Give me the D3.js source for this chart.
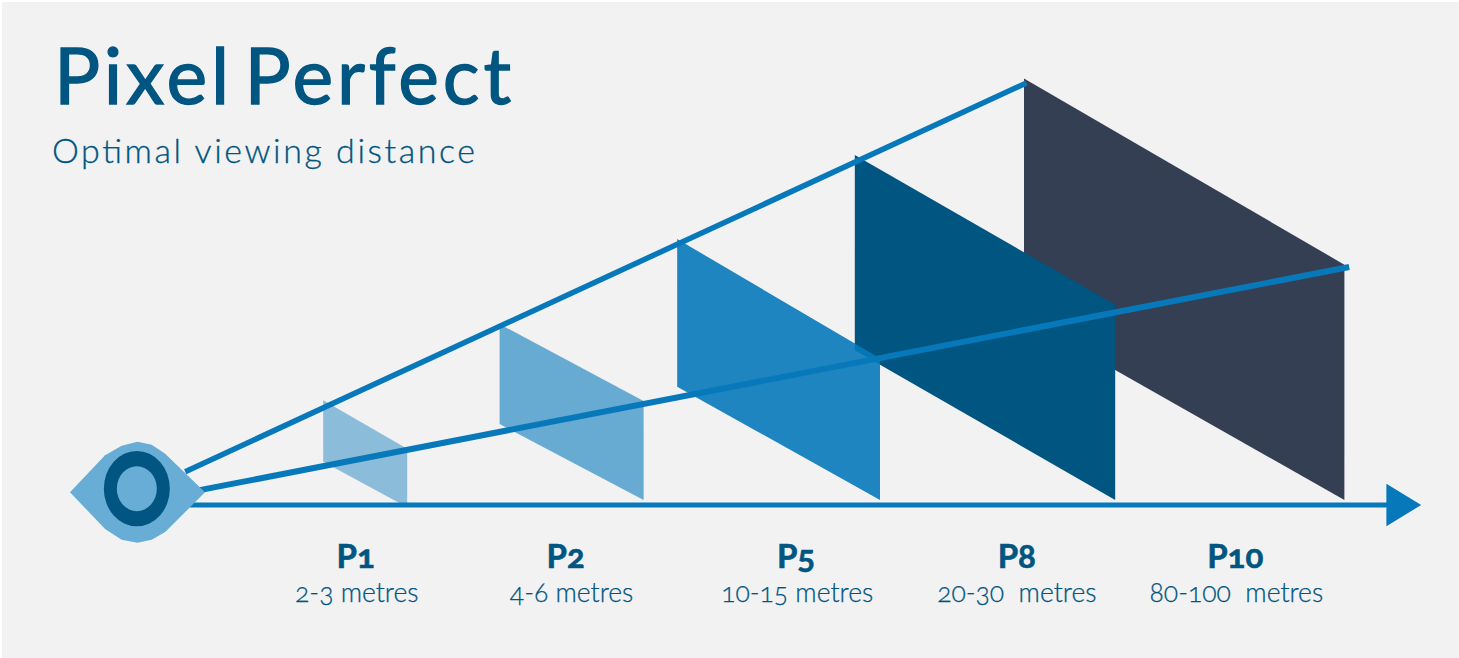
<!DOCTYPE html>
<html>
<head>
<meta charset="utf-8">
<style>
  body { margin: 0; background: #fff; }
  svg { display: block; }
  text { font-family: Lato, sans-serif; fill: #005581; stroke: #005581; white-space: pre; font-variant-numeric: oldstyle-nums; }
</style>
<script src="https://cdn.jsdelivr.net/npm/d3@7"></script>
</head>
<body>
<script>
// pitch classes, far to near is the draw order further down
var pitches = ['P1', 'P2', 'P5', 'P8', 'P10'];
var ranges = ['2-3 metres', '4-6 metres', '10-15 metres', '20-30  metres', '80-100  metres'];

// along the axis, 0-100
var nearEdge = [11.1, 25.8, 40.6, 55.4, 69.5];
var farEdge = [18.1, 37.8, 57.5, 77.1, 96.2];
var labelAt = [13.8, 31.3, 50.5, 68.9, 87.1];
var rangeAt = [13.9, 31.8, 50.6, 68.9, 87.2];

// height above the axis, 0-100
var nearTop = [23.3, 40.2, 59.1, 77.8, 94.8];
var farTop = [12.5, 23.1, 32.6, 44.5, 53.4];
var nearBottom = [9.6, 18.0, 26.3, 34.4, 41.5];
var farBottom = [-0.5, 1.1, 1.1, 1.1, 1.1];

var fills = ['#0779bb', '#0779bb', '#0779bb', '#005581', '#353f54'];
var fillOpacity = [0.44, 0.59, 0.9, 1, 1];

// sight lines [from, to]
var upperSightX = [-0.4, 69.7];
var upperSightY = [7.4, 93.8];
var lowerSightX = [0.8, 96.6];
var lowerSightY = [3.3, 52.9];

// eye outline, -1..1 each way
var eyeOutlineX = [-1, -0.48, -0.235, 0, 0.21, 0.41, 1, 0.41, 0.21, 0, -0.235, -0.48];
var eyeOutlineY = [0, 0.73, 0.92, 1, 0.94, 0.76, 0, -0.79, -0.94, -1, -0.94, -0.73];

var svgWidth = 1459, svgHeight = 658;

var svg = d3.select('body').append('svg')
    .attr('width', svgWidth)
    .attr('height', svgHeight);

svg.append('rect')
    .attr('x', 2).attr('y', 2)
    .attr('width', svgWidth - 2).attr('height', svgHeight - 2)
    .attr('fill', '#f2f2f2');

var xScale = d3.scaleLinear().domain([0, 100]).range([190, 1390]);
var yScale = d3.scaleLinear().domain([0, 100]).range([505, 55]);
var eyeX = d3.scaleLinear().domain([-1, 1]).range([70, 205]);
var eyeY = d3.scaleLinear().domain([-1, 1]).range([542.7, 441.7]);

var toPath = d3.line()
    .x(function(d){ return xScale(d[0]); })
    .y(function(d){ return yScale(d[1]); });

// Big panels first so the smaller ones sit on top
var order = d3.range(pitches.length).reverse();

svg.selectAll('.panel')
    .data(order)
    .enter()
    .append('path')
    .attr('class', 'panel')
    .attr('d', function(i){
        return toPath([
            [nearEdge[i], nearTop[i]],
            [farEdge[i], farTop[i]],
            [farEdge[i], farBottom[i]],
            [nearEdge[i], nearBottom[i]]
        ]) + 'Z';
    })
    .attr('fill', function(i){ return fills[i]; })
    .attr('fill-opacity', function(i){ return fillOpacity[i]; });

// Sight lines and axis
function sightLine(xs, ys, w){
    svg.append('line')
        .attr('x1', xScale(xs[0])).attr('y1', yScale(ys[0]))
        .attr('x2', xScale(xs[1])).attr('y2', yScale(ys[1]))
        .attr('stroke', '#0779bb')
        .attr('stroke-width', w);
}
sightLine(upperSightX, upperSightY, 5.5);
sightLine(lowerSightX, lowerSightY, 6);
sightLine([0, 100], [0, 0], 5);

var arrow = d3.path();
arrow.moveTo(xScale(99.7), yScale(4.7));
arrow.lineTo(xScale(102.6), yScale(0));
arrow.lineTo(xScale(99.7), yScale(-4.7));
arrow.closePath();
svg.append('path').attr('d', arrow.toString()).attr('fill', '#0779bb');

// Eye
var eyeLine = d3.line()
    .x(function(d){ return eyeX(d[0]); })
    .y(function(d){ return eyeY(d[1]); })
    .curve(d3.curveLinearClosed);

svg.append('path')
    .attr('d', eyeLine(d3.zip(eyeOutlineX, eyeOutlineY)))
    .attr('fill', '#68add6');

svg.append('ellipse')
    .attr('cx', eyeX(-0.01)).attr('cy', eyeY(0.07))
    .attr('rx', 33).attr('ry', 37.7)
    .attr('fill', '#005581');

svg.append('ellipse')
    .attr('cx', eyeX(-0.01)).attr('cy', eyeY(0.07))
    .attr('rx', 20).attr('ry', 22.5)
    .attr('fill', '#68add6');

// Titles
svg.append('text')
    .attr('x', 54).attr('y', 104)
    .attr('textLength', 457)
    .style('font-size', '77px')
    .style('font-weight', 400)
    .style('word-spacing', '-12px')
    .style('stroke-width', 1.3)
    .text('Pixel Perfect');

svg.append('text')
    .attr('x', 52).attr('y', 163)
    .attr('textLength', 423)
    .style('font-size', '34px')
    .style('font-weight', 300)
    .style('stroke-width', 0.3)
    .text('Optimal viewing distance');

// Labels under the axis
svg.selectAll('.pitch')
    .data(pitches)
    .enter()
    .append('text')
    .attr('class', 'pitch')
    .attr('text-anchor', 'middle')
    .attr('x', function(d, i){ return xScale(labelAt[i]); })
    .attr('y', 568)
    .style('font-size', '33px')
    .style('font-weight', 700)
    .style('stroke-width', 0.6)
    .text(function(d){ return d; });

svg.selectAll('.range')
    .data(ranges)
    .enter()
    .append('text')
    .attr('class', 'range')
    .attr('text-anchor', 'middle')
    .attr('x', function(d, i){ return xScale(rangeAt[i]); })
    .attr('y', 602)
    .style('font-size', '26.5px')
    .style('font-weight', 300)
    .style('stroke-width', 0.25)
    .text(function(d){ return d; });
</script>
</body>
</html>
